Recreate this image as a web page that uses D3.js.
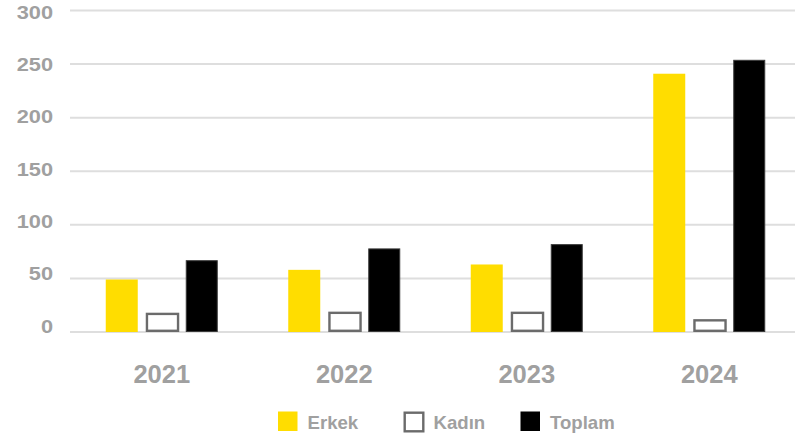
<!DOCTYPE html>
<html><head><meta charset="utf-8">
<script src="https://cdn.jsdelivr.net/npm/d3@7"></script>
<style>body{margin:0;background:#fff}svg{display:block;font-family:"Liberation Sans",Arial,sans-serif;font-weight:bold}</style>
</head><body><svg id="c" width="795" height="439"></svg>
<script>
const years = ["2021","2022","2023","2024"];
const erkek = [49,58,63,241];
const kadin = [18,19,19,12];
const toplam = [67,78,82,254];
const yTicks = [0,50,100,150,200,250,300];
const seriesNames = ["Erkek","Kadın","Toplam"];

const svg = d3.select("#c");
const x = d3.scaleBand().domain(years).range([70.5,800.5]);
const y = d3.scaleLinear().domain([0,300]).range([332,10.5]);
const yLab = d3.scaleLinear().domain([0,300]).range([326,12]);
const groupW = 112;
const sub = d3.scaleBand().domain(seriesNames).range([0,groupW]).paddingInner(0.2);
const fills = {"Erkek":"#FFDD00","Kadın":"#fff","Toplam":"#000"};
const strokes = {"Erkek":"none","Kadın":"#6b6b6b","Toplam":"#3a3a3a"};
const grey = "#a0a0a0";

// grid
svg.append("g").selectAll("line").data(yTicks).join("line")
  .attr("x1",70).attr("x2",795).attr("y1",d=>y(d)).attr("y2",d=>y(d))
  .attr("stroke","#dedede").attr("stroke-width",2);
// y labels (slightly wide glyphs)
svg.append("g").selectAll("text").data(yTicks).join("text")
  .attr("transform",d=>`translate(53,${yLab(d)}) scale(1.17,1)`)
  .attr("dy","0.36em").attr("text-anchor","end")
  .attr("fill",grey).attr("font-size",18.6).text(d=>d);

const data = [erkek,kadin,toplam];
years.forEach((yr,i)=>{
  const g0 = x(yr) + (x.bandwidth()-groupW)/2;
  seriesNames.forEach((s,j)=>{
    const v = data[j][i];
    const sw = s==="Kadın"?2.4:(s==="Toplam"?1:0);
    svg.append("rect")
      .attr("x",g0+sub(s)+sw/2).attr("y",y(v)+sw/2)
      .attr("width",sub.bandwidth()-sw+(s==="Kadın"?1.5:0)).attr("height",y(0)-y(v)-sw)
      .attr("fill",fills[s]).attr("stroke",strokes[s]).attr("stroke-width",sw);
  });
});
// x labels
svg.append("g").selectAll("text").data(years).join("text")
  .attr("x",d=>x(d)+x.bandwidth()/2).attr("y",383.3)
  .attr("text-anchor","middle").attr("fill",grey).attr("font-size",25.5).text(d=>d);
// legend
const legX = [278,403.5,520.5];
seriesNames.forEach((s,j)=>{
  const sw = s==="Kadın"?2.4:0;
  const sz = s==="Kadın"?21:19.5;
  svg.append("rect").attr("x",legX[j]+sw/2).attr("y",411.5+sw/2).attr("width",sz-sw).attr("height",sz-sw)
    .attr("fill",fills[s]).attr("stroke",s==="Kadın"?"#6b6b6b":"none").attr("stroke-width",sw);
  svg.append("text").attr("x",legX[j]+(s==="Kadın"?30:29.5)).attr("y",429)
    .attr("fill",grey).attr("font-size",18.6).text(s);
});
</script></body></html>
